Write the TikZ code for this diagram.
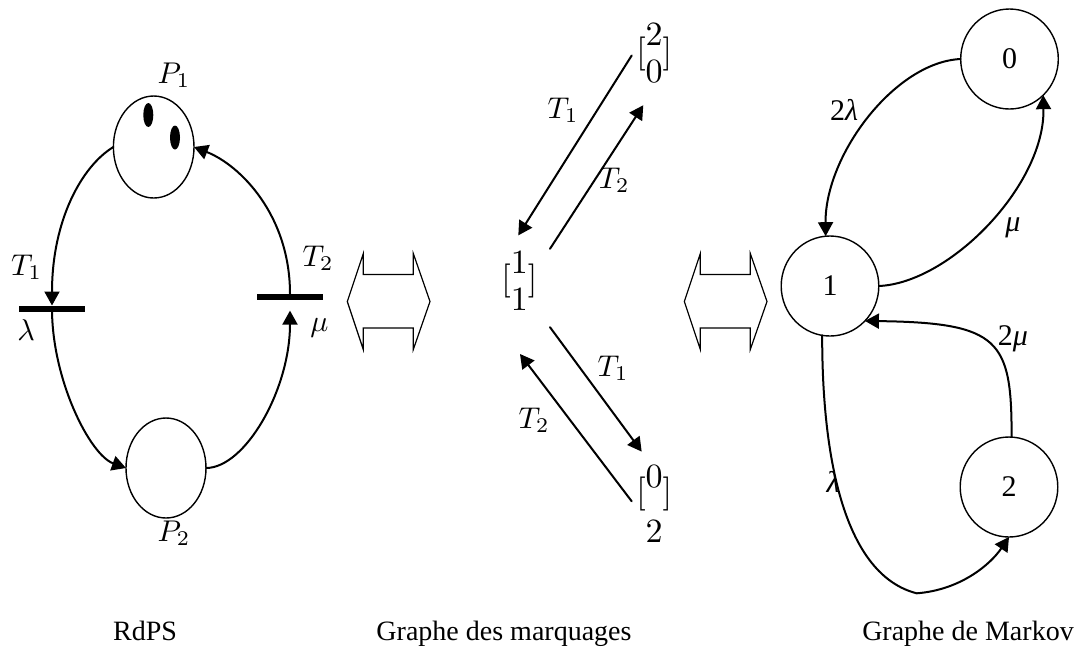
\documentclass[tikz,border=0pt]{standalone}
\usepackage[no-math]{fontspec}
\setmainfont{Liberation Serif}
\usepackage{tikz}
\usetikzlibrary{arrows.meta,shapes.geometric,calc}
\renewcommand{\arraystretch}{0.9}

\begin{document}
\begin{tikzpicture}[x=0.5pt,y=-0.5pt,>={Triangle[length=7pt,width=7.5pt]},line cap=round,
  place/.style={draw,ellipse,line width=0.7pt,inner sep=0pt,outer sep=0pt},
  trans/.style={fill=black,inner sep=0pt,outer sep=0pt,minimum width=33pt,minimum height=3.1pt},
  state/.style={draw,ellipse,line width=0.7pt,inner sep=0pt,outer sep=0pt,minimum width=48.8pt,minimum height=50pt,font=\fontsize{15}{17}\selectfont},
  arc/.style={->,line width=1pt},
  lbl/.style={scale=1.5,inner sep=0pt},
  mrk/.style={scale=1.7,inner sep=0pt,anchor=base},
  rate/.style={font=\fontsize{15}{17}\selectfont,inner sep=0pt},
  caption/.style={font=\fontsize{14}{16}\selectfont,anchor=base,inner sep=0pt}]
\useasboundingbox (0,0) rectangle (1078,655);
\node[place,minimum width=40.3pt,minimum height=51pt] (p1) at (153.7,147) {};
\node[place,minimum width=40pt,minimum height=50pt] (p2) at (166,468) {};
\fill (148.3,115) ellipse [x radius=2.5pt,y radius=6pt];
\fill (175,137.5) ellipse [x radius=2.5pt,y radius=6pt];
\node[trans] (t1) at (52,308.6) {};
\node[trans] (t2) at (290,297) {};
\node[lbl] (lp1) at (174,75) {$P_1$};
\node[lbl] (lp2) at (174,533) {$P_2$};
\node[lbl] (lt1) at (26.7,267) {$T_1$};
\node[lbl] (ll1) at (26,330) {$\lambda$};
\node[lbl] (lt2) at (318,258) {$T_2$};
\node[lbl] (lu2) at (319.5,327.5) {$\mu$};
\draw[arc] (p1.west) .. controls (82,166) and (52,220) .. (t1.north);
\draw[arc] (t1.center) .. controls (52,380) and (90,455) .. (p2.west);
\draw[arc] (p2.east) .. controls (245,468) and (290,390) .. ($(t2.south)+(0,10.5)$);
\draw[arc] (t2.north) .. controls (290,215) and (240,165) .. (p1.east);
\foreach \dx in {0,337}
  \draw[line width=0.6pt,line join=miter,shift={(\dx,0)}] (347.3,301.5) -- (363.3,253.5) -- (363.3,274.5) -- (413.3,274.5) -- (413.3,253.5) -- (430,301.5) -- (413.3,349.5) -- (413.3,328) -- (363.3,328) -- (363.3,349.5) -- cycle;
\node[mrk] (m20) at (654.2,62.1) {$[\raisebox{-1pt}{$\begin{array}{@{}c@{}}2\\0\end{array}$}]$};
\node[mrk] (m11) at (519.3,289.5) {$[\raisebox{-1pt}{$\begin{array}{@{}c@{}}1\\1\end{array}$}]$};
\node[mrk] (m02) at (654.2,502.2) {$[\raisebox{-4.1pt}{$\begin{array}{@{}c@{}}0\\[5.5pt]2\end{array}$}]$};
\draw[arc] ($(m20.base)+(-22.5,-6.6)$) -- ($(m11.base)+(-1,-54.1)$);
\draw[arc] ($(m11.base)+(30.7,-40.7)$) -- ($(m20.base)+(-10.9,43.1)$);
\draw[arc] ($(m11.base)+(30.7,37.7)$) -- ($(m02.base)+(-12.5,-50.6)$);
\draw[arc] ($(m02.base)+(-22.5,-0.9)$) -- ($(m11.base)+(0.7,64.5)$);
\node[lbl] (lm1) at (563,110) {$T_1$};
\node[lbl] (lm2) at (614,180) {$T_2$};
\node[lbl] (lm3) at (613,368) {$T_1$};
\node[lbl] (lm4) at (534,420) {$T_2$};
\node[state] (s0) at (1009.5,59) {0};
\node[state] (s1) at (830,286) {1};
\node[state] (s2) at (1009,487) {2};
\draw[arc] (s0.west) .. controls (895,62) and (825,155) .. (s1.95);
\draw[arc] (s1.east) .. controls (950,283) and (1045,185) .. (s0.-47);
\draw[arc] (s2.87) .. controls (1011.7,340) and (1000,322.7) .. (s1.-45);
\draw[arc] (s1.-99) .. controls (822,460) and (845,575) .. (916.7,593.3) .. controls (960,590) and (990,565) .. (s2.south);
\node[rate] (r1) at (844,110) {2\textit{λ}};
\node[rate] (r2) at (1013,227.5) {\textit{μ}};
\node[rate] (r3) at (1013,339) {2\textit{μ}};
\node[rate] (r4) at (833,481.5) {\textit{λ}};
\node[caption] (c1) at (145,640) {RdPS};
\node[caption] (c2) at (504,640) {Graphe des marquages};
\node[caption] (c3) at (968,640) {Graphe de Markov};
\end{tikzpicture}
\end{document}
